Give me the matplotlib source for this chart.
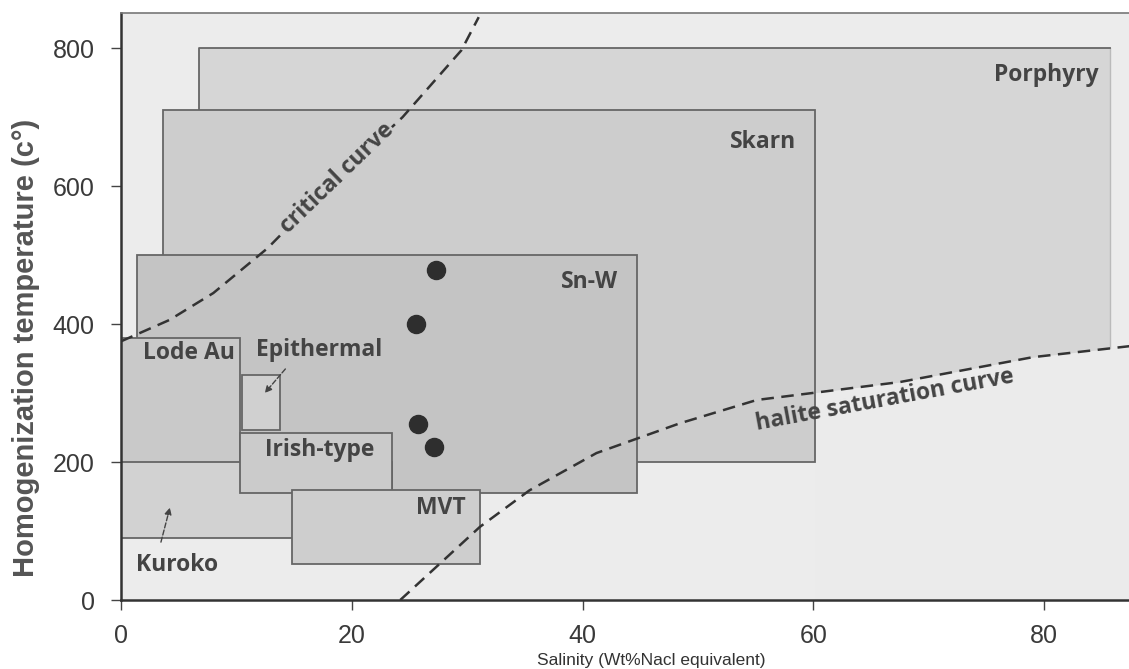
import numpy as np
import matplotlib.pyplot as plt
from matplotlib.patches import Rectangle

# deposit type fields: salinity range (wt% NaCl) and temperature range (C)
names = ["Porphyry", "Skarn", "Sn-W", "Lode Au", "Kuroko", "Irish-type", "Epithermal", "MVT"]
sal_lo = [6.8, 3.6, 1.4, 0.0, 0.0, 10.3, 10.5, 14.8]
sal_hi = [85.7, 60.1, 44.7, 10.3, 23.5, 23.5, 13.8, 31.1]
temp_lo = [210, 200, 155, 198, 90, 155, 246, 52]
temp_hi = [800, 710, 500, 380, 200, 242, 326, 160]
face = ["#d6d6d6", "#cdcdcd", "#c4c4c4", "#c9c9c9", "#d2d2d2", "#cbcbcb", "#d0d0d0", "#cecece"]

# label positions (data coords)
lab_x = [80.2, 55.6, 40.6, 5.9, 4.9, 17.2, 17.2, 27.7]
lab_y = [761, 664, 461, 358, 51, 217, 362, 133]

# fluid inclusion data points
pt_sal = [27.3, 25.6, 25.7, 27.1]
pt_temp = [478, 400, 255, 222]

# critical curve
crit_sal = [0.0, 4.2, 8.0, 12.7, 18.0, 24.4, 29.5, 31.0]
crit_temp = [375, 406, 445, 510, 600, 700, 797, 845]

# halite saturation curve
hal_sal = [24.2, 31.1, 35.4, 41.2, 48.4, 55.1, 67.5, 79.0, 87.4]
hal_temp = [0, 106, 159, 213, 256, 290, 316, 352, 368]

fig = plt.figure(figsize=(11.29, 6.69), dpi=100)
ax = fig.add_axes([121/1129, 1 - 600/669, 1 - 121/1129, (600 - 13)/669])
ax.set_facecolor("#ececec")

for i in range(len(names)):
    w = sal_hi[i] - sal_lo[i]
    h = temp_hi[i] - temp_lo[i]
    if names[i] == "Porphyry":
        ax.add_patch(Rectangle((sal_lo[i], temp_lo[i]), w, h, facecolor=face[i],
                               edgecolor="none", zorder=1))
        ax.plot([sal_lo[i], sal_lo[i], sal_hi[i]], [temp_hi[i] - 90, temp_hi[i], temp_hi[i]],
                color="#666666", lw=1.3, zorder=1.5)
        ax.plot([sal_hi[i], sal_hi[i]], [temp_lo[i], temp_hi[i]], color="#bbbbbb", lw=1, zorder=1.1)
    else:
        ax.add_patch(Rectangle((sal_lo[i], temp_lo[i]), w, h, facecolor=face[i],
                               edgecolor="#666666", lw=1.3, zorder=2 + i * 0.1))

# lighter region under the halite curve, right of the Skarn field
hs = np.array(hal_sal)
ht = np.array(hal_temp)
right = hs > sal_hi[1]
xs = np.concatenate([[sal_hi[1]], hs[right]])
ys = np.concatenate([[np.interp(sal_hi[1], hs, ht)], ht[right]])
ax.fill_between(xs, 0, ys, color="#ebebeb", zorder=1.2, lw=0)

ax.plot(crit_sal, crit_temp, color="#333333", lw=1.8, ls=(0, (5, 3)), zorder=4)
ax.plot(hal_sal, hal_temp, color="#333333", lw=1.8, ls=(0, (5, 3)), zorder=4)

ax.plot(pt_sal, pt_temp, "o", color="#2e2e2e", ms=13, zorder=5)

lab_font = dict(family="Open Sans", weight="bold", color="#444444", fontsize=16.5)
for i in range(len(names)):
    ax.text(lab_x[i], lab_y[i], names[i], ha="center", va="center", zorder=6, **lab_font)

ax.text(18.7, 612, "critical curve", rotation=44, ha="center", va="center", zorder=6,
        bbox=dict(facecolor=face[1], edgecolor="none", pad=0.5), **lab_font)
ax.text(66.2, 290, "halite saturation curve", rotation=10.5, ha="center", va="center",
        zorder=6, **lab_font)

# arrows for Epithermal and Kuroko
ax.annotate("", xy=(12.3, 297), xytext=(14.4, 338),
            arrowprops=dict(arrowstyle="-|>", color="#444444", lw=1, ls="--"), zorder=6)
ax.annotate("", xy=(4.3, 138), xytext=(3.4, 80),
            arrowprops=dict(arrowstyle="-|>", color="#444444", lw=1, ls="--"), zorder=6)

ax.set_xlim(0, 87.35)
ax.set_ylim(0, 851)
ax.set_xticks([0, 20, 40, 60, 80])
ax.set_yticks([0, 200, 400, 600, 800])
ax.tick_params(labelsize=18, labelcolor="#3a3a3a", color="#444444", length=7, width=1)
ax.tick_params(axis="y", pad=12)
ax.tick_params(axis="x", pad=10)
for lab in ax.get_xticklabels() + ax.get_yticklabels():
    lab.set_family("Liberation Sans")

for s in ["left", "bottom", "top"]:
    ax.spines[s].set_color("#333333")
    ax.spines[s].set_linewidth(1.8)
ax.spines["top"].set_linewidth(1.2)
ax.spines["top"].set_color("#777777")
ax.spines["right"].set_visible(False)

ax.set_ylabel("Homogenization temperature (c°)", fontsize=21, color="#555555",
              family="Liberation Sans", weight="bold")
ax.yaxis.set_label_coords(-0.080, 0.429)
fig.text(651/1129, 1 - 665/669, "Salinity (Wt%Nacl equivalent)", ha="center", va="baseline",
         fontsize=12.5, color="#333333", family="Liberation Sans")

fig.savefig("out.png", dpi=100, facecolor="white")
